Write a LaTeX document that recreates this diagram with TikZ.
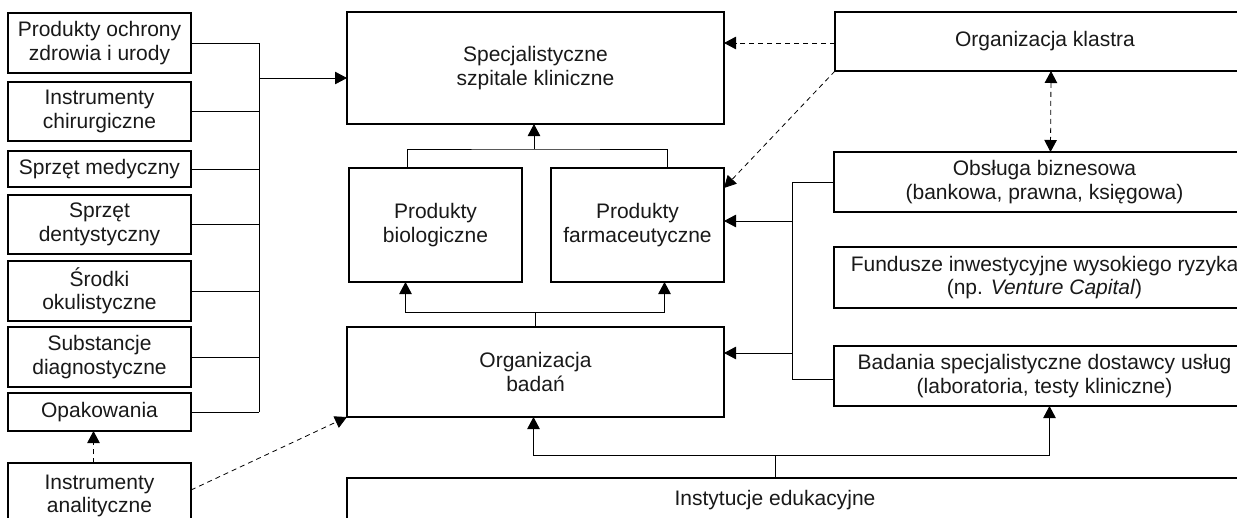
\documentclass[tikz,border=0pt]{standalone}
\usepackage{fontspec}
\setmainfont{Liberation Sans}
\usetikzlibrary{arrows.meta}
\newcommand\fs{\fontsize{21}{23.5}\selectfont}
% box by its corners: name, x1, y1, x2, y2, text
\newcommand\mkbox[6]{\node[bx, minimum width={(#4-#2)*1pt}, minimum height={(#5-#3)*1pt}] (#1) at ({(#2+#4)/2},{(#3+#5)/2}) {#6};}
\tikzset{
  bx/.style={draw, line width=1.3pt, inner sep=0pt, outer sep=0pt, align=center, font=\fs, text=black!90},
  ln/.style={line width=0.8pt},
  arr/.style={ln, -{Triangle[length=12pt,width=12.5pt]}},
  darr/.style={arr, dash pattern=on 5pt off 4pt},
  ddarr/.style={ln, dash pattern=on 5pt off 4pt, {Triangle[length=12pt,width=12.5pt]}-{Triangle[length=12pt,width=12.5pt]}},
}
\begin{document}
\begin{tikzpicture}[x=1pt,y=-1pt]
\useasboundingbox (0,0) rectangle (1237,517);
\clip (0,0) rectangle (1237,517);
\fill[white] (0,0) rectangle (1237,517);

% left column
\mkbox{p1}{8}{13}{191}{73}{Produkty ochrony\\zdrowia i urody}
\mkbox{p2}{8}{82}{191}{141}{Instrumenty\\chirurgiczne}
\mkbox{p3}{8}{151}{191}{187}{Sprzęt medyczny}
\mkbox{p4}{8}{195}{191}{254}{Sprzęt\\dentystyczny}
\mkbox{p5}{8}{261}{191}{321}{Środki\\okulistyczne}
\mkbox{p6}{8}{327}{191}{387}{Substancje\\diagnostyczne}
\mkbox{p7}{8}{393}{191}{431}{Opakowania}
\mkbox{ianal}{8}{463}{191}{529}{Instrumenty\\analityczne}

% centre
\mkbox{spec}{347}{12}{724}{124}{Specjalistyczne\\szpitale kliniczne}
\mkbox{bio}{349}{168}{522}{282}{Produkty\\biologiczne}
\mkbox{farm}{551}{168}{724}{282}{Produkty\\farmaceutyczne}
\mkbox{orgb}{347}{327}{724}{417}{Organizacja\\badań}
\mkbox{inst}{347}{478}{1255}{522}{}
\node[font=\fs, text=black!90] (instl) at (775,500) {Instytucje edukacyjne};

% right column
\mkbox{klas}{835}{12}{1255}{71}{Organizacja klastra}
\mkbox{obs}{834}{152}{1255}{212}{Obsługa biznesowa\\(bankowa, prawna, księgowa)}
\mkbox{fund}{834}{247}{1255}{308}{Fundusze inwestycyjne wysokiego ryzyka\\(np. \textit{Venture Capital})}
\mkbox{bad}{834}{346}{1255}{406}{Badania specjalistyczne dostawcy usług\\(laboratoria, testy kliniczne)}

% left bus into the hospitals
\coordinate (lb) at (259,0);
\coordinate (lbm) at (259,78);
\foreach \n in {p1,p2,p3,p4,p5,p6,p7} \draw[ln] (\n.east) -- (\n.east -| lb);
\draw[ln] (p1.east -| lb) -- (p7.east -| lb);
\draw[arr] (lbm) -- (lbm -| spec.west);

% products up to the hospitals
\coordinate (j1) at (534,149);
\draw[ln] ([xshift=-28.5pt]bio.north) |- (j1) -| ([xshift=29.5pt]farm.north);
\draw[arr] (j1) -- (j1 |- spec.south);

% research organisation up to the products
\coordinate (j2) at (535,312);
\draw[ln] (j2) -- (j2 |- orgb.north);
\draw[arr] (j2) -| ([xshift=-30pt]bio.south);
\draw[arr] (j2) -| ([xshift=27pt]farm.south);

% right bus from services
\coordinate (rb) at (792,0);
\coordinate (fin) at ([yshift=4pt]farm.east);
\coordinate (oin) at ([yshift=19pt]orgb.east);
\coordinate (bin) at ([yshift=-3pt]bad.west);
\draw[ln] (obs.west) -- (obs.west -| rb) -- (bin -| rb) -- (bin);
\draw[arr] (fin -| rb) -- (fin);
\draw[arr] (oin -| rb) -- (oin);

% education institutions
\coordinate (j3) at (775,455);
\coordinate (bdin) at ([xshift=5pt]bad.south);
\draw[ln] (j3) -- (j3 |- inst.north);
\draw[arr] (j3) -| ([xshift=-2pt]orgb.south);
\draw[arr] (j3) -| (bdin);

% cluster organisation links
\draw[darr] (klas.west |- 0,43) -- (spec.east |- 0,43);
\draw[darr] (klas.south west) -- ([yshift=-20pt]farm.north east);
\draw[ddarr] ([xshift=6pt]klas.south) -- ([xshift=6pt]obs.north);

% analytical instruments
\draw[darr] ([xshift=-6pt]ianal.north) -- ([xshift=-6pt]p7.south);
\draw[darr] ([yshift=6pt]ianal.east) -- (orgb.south west);
\end{tikzpicture}
\end{document}
